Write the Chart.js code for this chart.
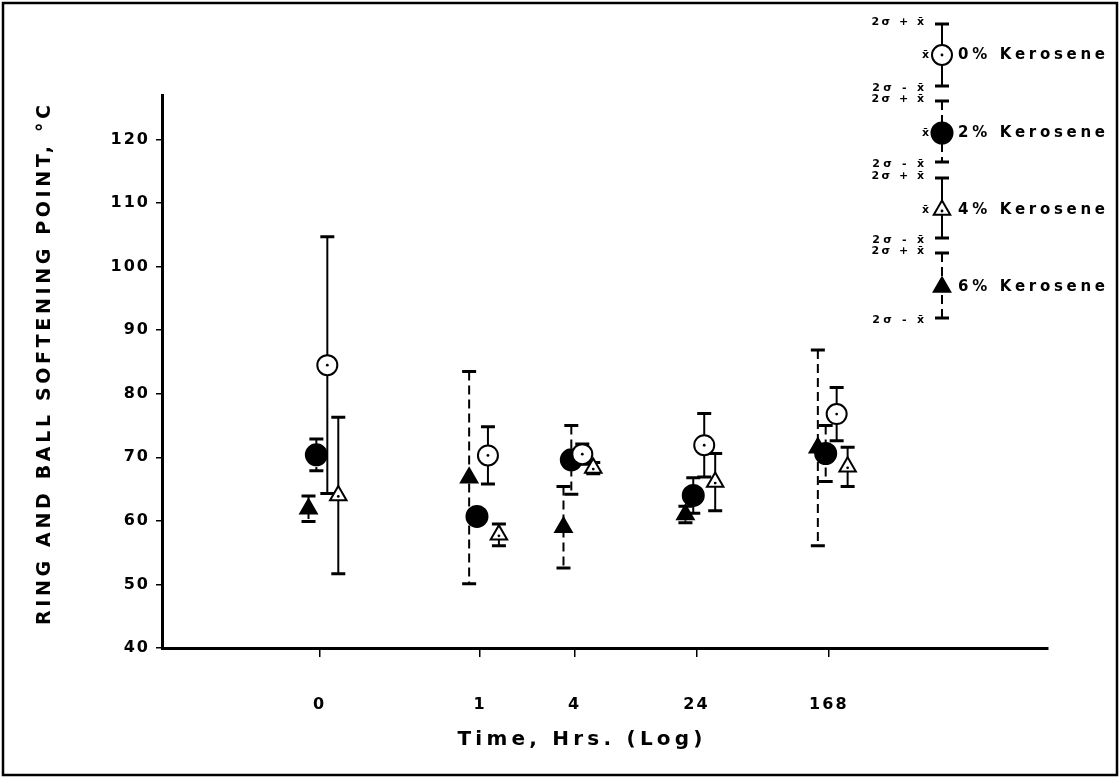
<!DOCTYPE html>
<html><head><meta charset="utf-8">
<script src="https://cdn.jsdelivr.net/npm/chart.js@4.4.0/dist/chart.umd.min.js"></script>
<style>html,body{margin:0;padding:0;background:#fff;overflow:hidden}#wrap{position:relative;width:1120px;height:779px}</style>
</head><body><div id="wrap"><canvas id="c" width="1120" height="779"></canvas></div>
<script>
// ---------------- data ----------------
const times = [0, 1, 4, 24, 168];
const timeLabels = ['0', '1', '4', '24', '168'];
const yTickValues = [40, 50, 60, 70, 80, 90, 100, 110, 120];
const seriesNames = ['0% Kerosene', '2% Kerosene', '4% Kerosene', '6% Kerosene'];
const mean0 = [84.5, 70.3, 70.5, 71.9, 76.8];
const err0  = [20.2, 4.5, 1.6, 5.0, 4.2];
const mean2 = [70.4, 60.7, 69.6, 64.0, 70.6];
const err2  = [2.5, 0.6, 5.4, 2.8, 4.4];
const mean4 = [64.0, 57.8, 68.3, 66.1, 68.5];
const err4  = [12.3, 1.7, 0.9, 4.5, 3.1];
const mean6 = [61.9, 66.8, 59.0, 61.0, 71.5];
const err6  = [2.0, 16.7, 6.4, 1.3, 15.4];

// ---------------- style / layout ----------------
const ZERO_POS = -1.025;            // where "0 h" sits on the log axis
const dodge = [0.05, -0.02, 0.12, -0.07];
const styles = [
  {pointStyle:'circle',   radius:10, bg:'#fff', dashed:false, dot:true},
  {pointStyle:'circle',   radius:10.5, bg:'#000', dashed:true,  dot:false},
  {pointStyle:'triangle', radius:9.5, bg:'#fff', dashed:false, dot:true},
  {pointStyle:'triangle', radius:9.5, bg:'#000', dashed:true,  dot:false}
];
const FONT = '"DejaVu Sans", "Liberation Sans", sans-serif';
const means = [mean0, mean2, mean4, mean6];
const errs = [err0, err2, err4, err6];

function xPos(t){ return t === 0 ? ZERO_POS : Math.log10(t); }
const tickPositions = times.map(xPos);

const datasets = means.map((m, s) => ({
  label: seriesNames[s],
  data: times.map((t, i) => ({x: xPos(t) + dodge[s], y: m[i]})),
  errors: errs[s],
  dashed: styles[s].dashed,
  dot: styles[s].dot,
  pointStyle: styles[s].pointStyle,
  pointRadius: styles[s].radius,
  pointHoverRadius: styles[s].radius,
  pointBackgroundColor: styles[s].bg,
  pointBorderColor: '#000',
  pointBorderWidth: 2,
  showLine: false
}));

function fitText(ctx, text, x, y, target, align){
  ctx.letterSpacing = '0px';
  const w0 = ctx.measureText(text).width;
  const n = Math.max(1, [...text].length - 1);
  const sp = Math.max(0, (target - w0) / n);
  ctx.letterSpacing = sp + 'px';
  const w = ctx.measureText(text).width - sp;
  let sx = x;
  if (align === 'center') sx = x - w / 2;
  else if (align === 'right') sx = x - w;
  ctx.textAlign = 'left';
  ctx.fillText(text, sx, y);
  ctx.letterSpacing = '0px';
}

function drawBar(ctx, x, yt, yb, dashed, capW){
  ctx.save();
  ctx.strokeStyle = '#000';
  ctx.lineWidth = 2;
  ctx.setLineDash(dashed ? [9, 5] : []);
  ctx.beginPath(); ctx.moveTo(x, yt); ctx.lineTo(x, yb); ctx.stroke();
  ctx.setLineDash([]);
  ctx.lineWidth = 3;
  ctx.beginPath();
  ctx.moveTo(x - capW, yt); ctx.lineTo(x + capW, yt);
  ctx.moveTo(x - capW, yb); ctx.lineTo(x + capW, yb);
  ctx.stroke();
  ctx.restore();
}

function drawMarker(ctx, s, x, y){
  const st = styles[s];
  ctx.save();
  ctx.fillStyle = st.bg; ctx.strokeStyle = '#000'; ctx.lineWidth = 2;
  Chart.helpers.drawPoint(ctx, {pointStyle: st.pointStyle, radius: st.radius, borderWidth: 2, rotation: 0}, x, y);
  if (st.dot){ ctx.fillStyle = '#000'; ctx.beginPath(); ctx.arc(x, y + (st.pointStyle==='triangle'?1:0), 1.4, 0, Math.PI*2); ctx.fill(); }
  ctx.restore();
}

const plugin = {
  id: 'custom',
  beforeDraw(chart){
    const ctx = chart.ctx;
    ctx.save(); ctx.fillStyle = '#fff'; ctx.fillRect(0, 0, chart.width, chart.height); ctx.restore();
    ctx.letterSpacing = '2px';
  },
  beforeDatasetsDraw(chart){
    const ctx = chart.ctx;
    ctx.letterSpacing = '0px';
    const xs = chart.scales.x, ys = chart.scales.y;
    chart.data.datasets.forEach(ds => {
      ds.data.forEach((p, i) => {
        const e = ds.errors[i];
        drawBar(ctx, xs.getPixelForValue(p.x), ys.getPixelForValue(p.y + e), ys.getPixelForValue(p.y - e), ds.dashed, 7);
      });
    });
  },
  afterDatasetsDraw(chart){
    const ctx = chart.ctx, xs = chart.scales.x, ys = chart.scales.y;
    chart.data.datasets.forEach(ds => {
      if (!ds.dot) return;
      ds.data.forEach(p => {
        const px = xs.getPixelForValue(p.x), py = ys.getPixelForValue(p.y);
        ctx.save(); ctx.fillStyle = '#000'; ctx.beginPath();
        ctx.arc(px, py + (ds.pointStyle==='triangle'?1:0), 1.4, 0, Math.PI*2); ctx.fill(); ctx.restore();
      });
    });
  },
  afterDraw(chart){
    const ctx = chart.ctx;
    ctx.save();
    ctx.fillStyle = '#000';
    ctx.textBaseline = 'middle';
    // axis titles
    ctx.font = 'bold 20px ' + FONT;
    fitText(ctx, 'Time, Hrs. (Log)', 580, 740, 245, 'center');
    ctx.save();
    ctx.translate(45, 365);
    ctx.rotate(-Math.PI / 2);
    ctx.font = 'bold 19px ' + FONT;
    fitText(ctx, 'RING AND BALL SOFTENING POINT, \u00B0C', 0, 0, 520, 'center');
    ctx.restore();
    // legend
    const gx = 942;
    const rows = [
      {top: 24, mid: 55, bot: 86},
      {top: 101, mid: 133, bot: 162},
      {top: 178, mid: 210, bot: 238},
      {top: 253, mid: 287, bot: 318}
    ];
    rows.forEach((r, s) => {
      drawBar(ctx, gx, r.top, r.bot, styles[s].dashed, 7);
      drawMarker(ctx, s, gx, r.mid);
      ctx.fillStyle = '#000';
      ctx.font = 'bold 11px ' + FONT;
      fitText(ctx, '2\u03C3 + x\u0304', 924, r.top - 2, 55, 'right');
      fitText(ctx, '2\u03C3 - x\u0304', 924, r.bot + 2, 55, 'right');
      if (s < 3) fitText(ctx, 'x\u0304', 929, r.mid, 6, 'right');
      ctx.font = 'bold 15px ' + FONT;
      fitText(ctx, seriesNames[s], 958, r.mid, 147, 'left');
    });
    // frame
    ctx.strokeStyle = '#000'; ctx.lineWidth = 2.5;
    ctx.strokeRect(3, 3, 1114, 772);
    ctx.restore();
  }
};

new Chart(document.getElementById('c'), {
  type: 'scatter',
  data: {datasets},
  options: {
    responsive: false,
    animation: false,
    devicePixelRatio: 1,
    layout: {padding: {left: 0, right: 72, top: 95, bottom: 0}},
    plugins: {legend: {display: false}, tooltip: {enabled: false}},
    scales: {
      x: {
        type: 'linear', min: -2.03, max: 3.624,
        afterBuildTicks(scale){ scale.ticks = tickPositions.map(v => ({value: v})); },
        afterFit(scale){ scale.height = 131; },
        ticks: {
          color: '#000', padding: 38, maxRotation: 0, autoSkip: false,
          font: {family: FONT, weight: 'bold', size: 16},
          callback(v){ const i = tickPositions.findIndex(p => Math.abs(p - v) < 1e-6); return i >= 0 ? timeLabels[i] : ''; }
        },
        grid: {display: true, drawOnChartArea: false, drawTicks: true, tickLength: 9, color: '#000', lineWidth: 1.5},
        border: {display: true, color: '#000', width: 3}
      },
      y: {
        type: 'linear', min: 40, max: 127,
        afterBuildTicks(scale){ scale.ticks = yTickValues.map(v => ({value: v})); },
        afterFit(scale){ scale.width = 162; },
        ticks: {color: '#000', padding: 6, font: {family: FONT, weight: 'bold', size: 16}},
        grid: {display: true, drawOnChartArea: false, drawTicks: true, tickLength: 6, color: '#000', lineWidth: 1.5},
        border: {display: true, color: '#000', width: 3}
      }
    }
  },
  plugins: [plugin]
});
</script></body></html>
